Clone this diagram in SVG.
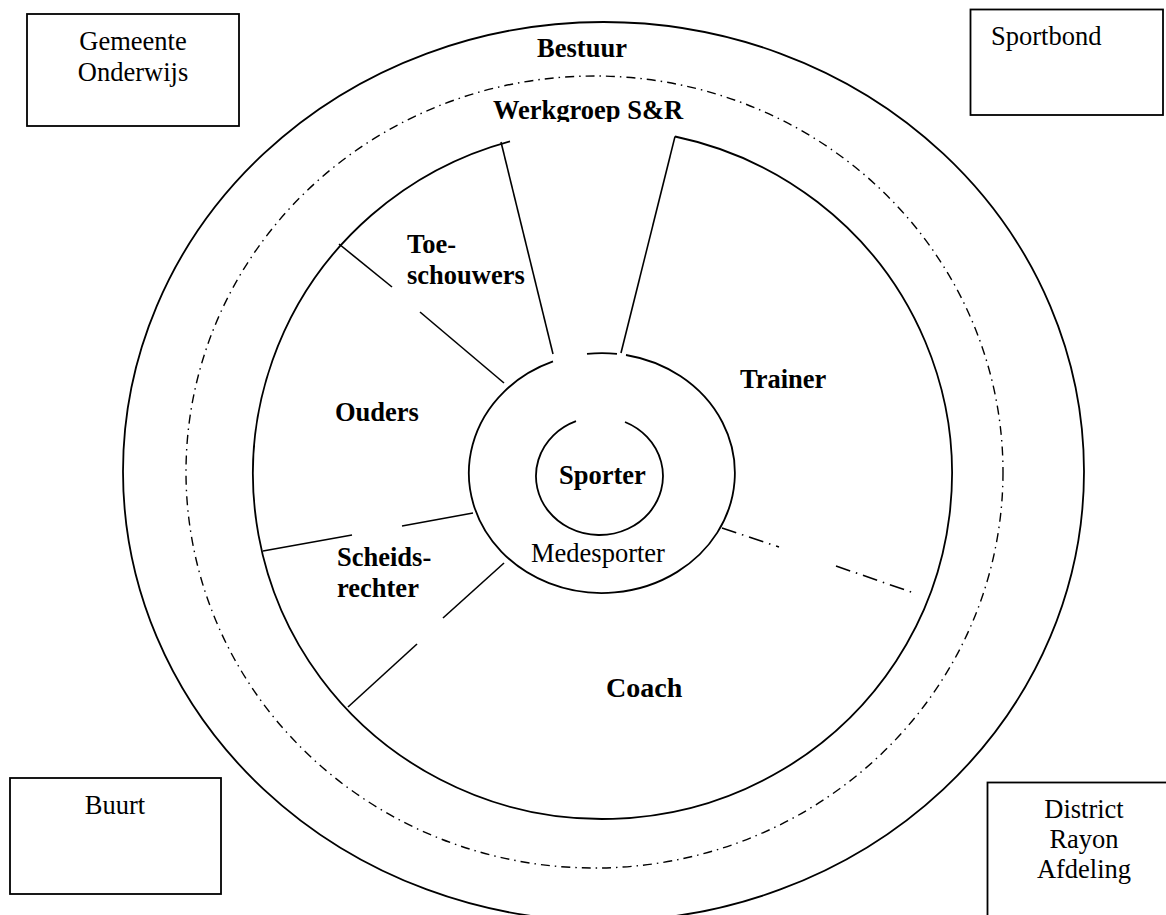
<svg xmlns="http://www.w3.org/2000/svg" width="1166" height="915" viewBox="0 0 1166 915">
<style>
.s{fill:none;stroke:#000;stroke-width:1.8}
.ln{fill:none;stroke:#000;stroke-width:1.6}
.dd{fill:none;stroke:#000;stroke-width:1.4;stroke-dasharray:9 5 1.5 5}
.dl{fill:none;stroke:#000;stroke-width:1.6;stroke-dasharray:15 6 1.5 6}
.bx{fill:#fff;stroke:#000;stroke-width:1.8}
text{font-family:"Liberation Serif","Times New Roman",serif;font-size:26.5px;fill:#000}
.b{font-weight:bold}
.c{text-anchor:middle}
</style>
<defs>
<clipPath id="wgclip"><rect x="480" y="90" width="220" height="32"/></clipPath>
</defs>
<rect width="1166" height="915" fill="#fff"/>

<g id="bestuur">
<ellipse class="s" cx="603.5" cy="471.5" rx="480.5" ry="449.5"/>
<text class="b c" x="582" y="57">Bestuur</text>
</g>

<g id="werkgroep">
<ellipse class="dd" cx="594.5" cy="472" rx="408.5" ry="396"/>
<text class="b" x="493" y="119" clip-path="url(#wgclip)">Werkgroep S&amp;R</text>
</g>

<g id="omgeving">
<path class="s" d="M 675 136.5 A 349.5 345 0 1 1 510 141.3"/>
</g>

<g id="medesporter">
<path class="s" d="M 626 355 A 133 120 0 1 1 553 361.4"/>
<path class="s" d="M 587 353.8 A 133 120 0 0 1 617 353.8"/>
<text x="531" y="562">Medesporter</text>
</g>

<g id="sporter">
<path class="s" d="M 625 422 A 63.5 59 0 1 1 576 421.2"/>
<text class="b" x="559" y="484">Sporter</text>
</g>

<g id="connectors">
<line class="ln" x1="501" y1="142" x2="553" y2="354"/>
<line class="ln" x1="675" y1="136.5" x2="621" y2="353"/>
<line class="ln" x1="339" y1="244" x2="392" y2="287"/>
<line class="ln" x1="420" y1="312" x2="504" y2="383"/>
<line class="ln" x1="263" y1="551" x2="352" y2="535"/>
<line class="ln" x1="402" y1="526" x2="473" y2="513"/>
<line class="ln" x1="348" y1="707" x2="417" y2="644"/>
<line class="ln" x1="443" y1="618" x2="504" y2="563"/>
<line class="dl" x1="722" y1="528" x2="779" y2="547"/>
<line class="dl" x1="836" y1="566" x2="914" y2="593"/>
</g>

<g id="toeschouwers">
<text class="b" x="407" y="253">Toe-</text>
<text class="b" x="407" y="284">schouwers</text>
</g>
<g id="ouders">
<text class="b" x="335" y="421">Ouders</text>
</g>
<g id="scheidsrechter">
<text class="b" x="337" y="566">Scheids-</text>
<text class="b" x="337" y="597">rechter</text>
</g>
<g id="trainer">
<text class="b" x="740" y="388">Trainer</text>
</g>
<g id="coach">
<text class="b" x="606" y="697" style="font-size:28px">Coach</text>
</g>

<g id="gemeente">
<rect class="bx" x="27" y="14" width="212" height="112"/>
<text class="c" x="133" y="50">Gemeente</text>
<text class="c" x="133" y="81">Onderwijs</text>
</g>
<g id="sportbond">
<rect class="bx" x="970.5" y="9.5" width="192.5" height="105.5"/>
<text x="991" y="45">Sportbond</text>
</g>
<g id="buurt">
<rect class="bx" x="10" y="778" width="211" height="116"/>
<text class="c" x="115" y="814">Buurt</text>
</g>
<g id="district">
<rect class="bx" x="987.5" y="782.5" width="200" height="150"/>
<text class="c" x="1084" y="818">District</text>
<text class="c" x="1084" y="848">Rayon</text>
<text class="c" x="1084" y="878">Afdeling</text>
</g>
</svg>
